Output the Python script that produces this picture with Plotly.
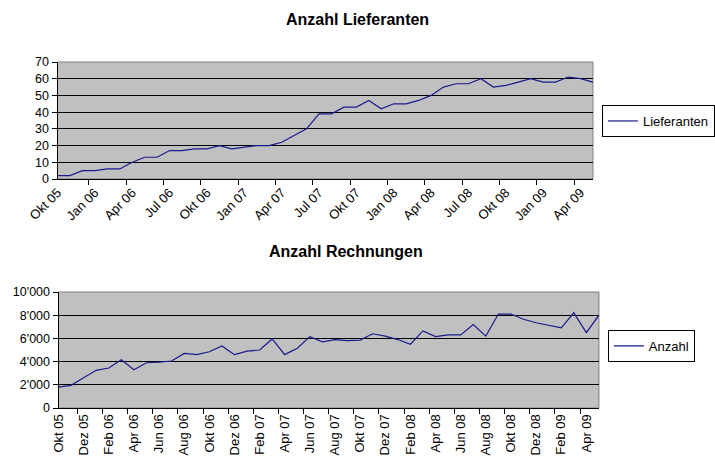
import plotly.graph_objects as go

months = ["Okt 05", "Nov 05", "Dez 05",
          "Jan 06", "Feb 06", "Mrz 06", "Apr 06", "Mai 06", "Jun 06",
          "Jul 06", "Aug 06", "Sep 06", "Okt 06", "Nov 06", "Dez 06",
          "Jan 07", "Feb 07", "Mrz 07", "Apr 07", "Mai 07", "Jun 07",
          "Jul 07", "Aug 07", "Sep 07", "Okt 07", "Nov 07", "Dez 07",
          "Jan 08", "Feb 08", "Mrz 08", "Apr 08", "Mai 08", "Jun 08",
          "Jul 08", "Aug 08", "Sep 08", "Okt 08", "Nov 08", "Dez 08",
          "Jan 09", "Feb 09", "Mrz 09", "Apr 09", "Mai 09"]

lieferanten = [2, 2, 5, 5, 6, 6, 10, 13, 13, 17, 17, 18, 18, 20, 18,
               19, 20, 20, 22, 26, 30, 39, 39, 43, 43, 47, 42, 45, 45,
               47, 50, 55, 57, 57, 60, 55, 56, 58, 60, 58, 58, 61, 60, 58]

rechnungen = [1800, 1950, 2600, 3250, 3450, 4150, 3300, 3900, 3950, 4050,
              4700, 4600, 4850, 5350, 4600, 4900, 5000, 5950, 4600, 5150,
              6150, 5700, 5900, 5800, 5850, 6400, 6200, 5900, 5500, 6650,
              6150, 6300, 6300, 7200, 6200, 8100, 8100, 7650, 7350, 7100,
              6900, 8200, 6500, 8000]

title_top = "Anzahl Lieferanten"
title_bot = "Anzahl Rechnungen"

W, H = 715, 458
FONT = "Arial, 'Liberation Sans', sans-serif"
LINE = "#1a1a8c"
BG = "#C0C0C0"

fig = go.Figure()
fig.add_trace(go.Scatter(x=months, y=lieferanten, mode="lines", name="Lieferanten",
                         line=dict(color=LINE, width=1.2), xaxis="x", yaxis="y",
                         legend="legend"))
fig.add_trace(go.Scatter(x=months, y=rechnungen, mode="lines", name="Anzahl",
                         line=dict(color=LINE, width=1.2), xaxis="x2", yaxis="y2",
                         legend="legend2"))

xfont = dict(family=FONT, size=13, color="black")
yfont = dict(family=FONT, size=12.5, color="black")
xcommon = dict(type="category", tickson="boundaries", ticks="outside", ticklen=5,
               tickcolor="black", showline=True, linecolor="black", linewidth=1,
               showgrid=False, zeroline=False, automargin=False, tickfont=xfont,
               fixedrange=True)
ycommon = dict(ticks="outside", ticklen=5, tickcolor="black", showline=True,
               linecolor="black", linewidth=1, showgrid=True, gridcolor="black",
               gridwidth=1, zeroline=False, automargin=False, tickfont=yfont,
               fixedrange=True)

legfont = dict(family=FONT, size=13, color="black")

fig.update_layout(
    width=W, height=H,
    margin=dict(l=0, r=0, t=0, b=0),
    paper_bgcolor="white", plot_bgcolor=BG,
    template="none",
    separators=".'",
    showlegend=True,
    xaxis=dict(domain=[58 / W, 598 / W], anchor="y", dtick=3, tick0=0,
               tickangle=-45, **xcommon),
    yaxis=dict(domain=[1 - 179 / H, 1 - 62 / H], anchor="x", range=[0, 70],
               dtick=10, **ycommon),
    xaxis2=dict(domain=[59 / W, 604 / W], anchor="y2", dtick=2, tick0=0,
                tickangle=-90, **xcommon),
    yaxis2=dict(domain=[1 - 408 / H, 1 - 292 / H], anchor="x2", range=[0, 10000],
                dtick=2000, tickformat=",d", **ycommon),
    legend=dict(x=607 / W, y=1 - 105 / H, xanchor="left", yanchor="top",
                bordercolor="black", borderwidth=1, bgcolor="white",
                font=legfont, itemwidth=30, visible=True),
    legend2=dict(x=613 / W, y=1 - 330 / H, xanchor="left", yanchor="top",
                 bordercolor="black", borderwidth=1, bgcolor="white",
                 font=legfont, itemwidth=30, visible=True),
    shapes=[
        dict(type="rect", xref="x domain", yref="y domain", x0=0, x1=1, y0=0, y1=1,
             line=dict(color="#808080", width=1), fillcolor=BG, layer="below"),
        dict(type="rect", xref="x2 domain", yref="y2 domain", x0=0, x1=1, y0=0, y1=1,
             line=dict(color="#808080", width=1), fillcolor=BG, layer="below"),
    ],
    annotations=[
        dict(text="<b>%s</b>" % title_top, xref="paper", yref="paper",
             x=361 / W, y=1 - 19 / H, xanchor="center", yanchor="middle",
             showarrow=False, font=dict(family=FONT, size=16, color="black")),
        dict(text="<b>%s</b>" % title_bot, xref="paper", yref="paper",
             x=349 / W, y=1 - 251 / H, xanchor="center", yanchor="middle",
             showarrow=False, font=dict(family=FONT, size=16, color="black")),
    ],
)

fig.write_html("out.html",
               config={"displayModeBar": False, "staticPlot": True},
               post_script="document.body.style.margin='0';"
                           "document.body.style.overflow='hidden';")
